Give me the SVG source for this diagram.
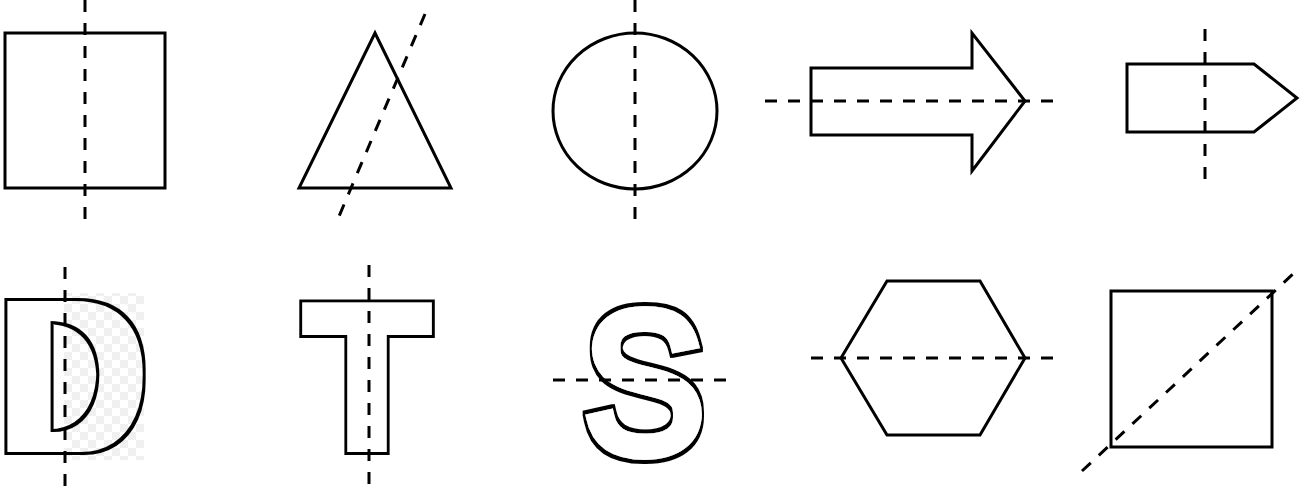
<svg xmlns="http://www.w3.org/2000/svg" width="1311" height="496" viewBox="0 0 1311 496">
  <style>
    .shape { fill: none; stroke: #000; stroke-width: 3; stroke-linejoin: miter; }
    .axis { fill: none; stroke: #000; stroke-width: 3; stroke-dasharray: 12 11; }
    .letter { font-family: "Liberation Sans", Arial, sans-serif; fill: #000; }
  </style>
  <defs>
    <pattern id="checker" x="0" y="0" width="16" height="16" patternUnits="userSpaceOnUse">
      <rect width="16" height="16" fill="#ffffff"/>
      <rect width="8" height="8" fill="#f0f0f0"/>
      <rect x="8" y="8" width="8" height="8" fill="#f0f0f0"/>
    </pattern>
    <filter id="fat6" x="-20%" y="-20%" width="140%" height="140%">
      <feMorphology in="SourceAlpha" operator="dilate" radius="7.5" result="outer"/>
      <feMorphology in="SourceAlpha" operator="dilate" radius="4.5" result="inner"/>
      <feComposite in="outer" in2="inner" operator="out" result="ring"/>
      <feFlood flood-color="#ffffff" result="white"/>
      <feComposite in="white" in2="inner" operator="in" result="fill"/>
      <feMerge>
        <feMergeNode in="fill"/>
        <feMergeNode in="ring"/>
      </feMerge>
    </filter>
    <filter id="ringD" x="-40%" y="-20%" width="180%" height="140%">
      <feMorphology in="SourceAlpha" operator="dilate" radius="18.45 4.5" result="outer"/>
      <feMorphology in="SourceAlpha" operator="dilate" radius="14.95 1.5" result="inner"/>
      <feComposite in="outer" in2="inner" operator="out"/>
    </filter>
    <filter id="edge" x="-20%" y="-20%" width="140%" height="140%">
      <feMorphology in="SourceAlpha" operator="dilate" radius="1.5" result="outer"/>
      <feMorphology in="SourceAlpha" operator="erode" radius="1.5" result="inner"/>
      <feComposite in="outer" in2="inner" operator="out" result="ring"/>
      <feFlood flood-color="#ffffff" result="white"/>
      <feComposite in="white" in2="inner" operator="in" result="fill"/>
      <feMerge>
        <feMergeNode in="fill"/>
        <feMergeNode in="ring"/>
      </feMerge>
    </filter>
  </defs>
  <rect width="1311" height="496" fill="#ffffff"/>

  <g id="square1">
    <rect class="shape" x="5" y="33" width="160" height="155"/>
  </g>
  <g id="triangle">
    <polygon class="shape" points="375,33 299,188 451,188"/>
  </g>
  <g id="circle">
    <ellipse class="shape" cx="635" cy="111" rx="82" ry="78"/>
  </g>
  <g id="arrow">
    <polygon class="shape" points="811,68 972,68 972,33 1025,101 972,171 972,135 811,135"/>
  </g>
  <g id="pentagon">
    <polygon class="shape" points="1127,64 1254,64 1297,98 1254,132 1127,132"/>
  </g>
  <g id="letterD">
    <rect x="64" y="293" width="80" height="167" fill="url(#checker)"/>
    <text class="letter" transform="translate(5.2,449.5) scale(0.862,1)" x="0" y="0" font-size="214" filter="url(#ringD)">D</text>
  </g>
  <g id="letterT">
    <text class="letter" x="367" y="447" font-size="203" font-weight="bold" text-anchor="middle" filter="url(#fat6)">T</text>
  </g>
  <g id="letterS">
    <text class="letter" transform="translate(644,451.6) scale(0.9,1)" x="0" y="0" font-size="200" text-anchor="middle" stroke="#000" stroke-width="16" stroke-linejoin="miter" stroke-miterlimit="4" filter="url(#edge)">S</text>
  </g>
  <g id="hexagon">
    <polygon class="shape" points="841,358 887,281 980,281 1025,358 980,435 887,435"/>
  </g>
  <g id="square2">
    <rect class="shape" x="1111" y="291" width="161" height="156"/>
  </g>

  <g id="axes">
    <line class="axis" x1="85" y1="0" x2="85" y2="221"/>
    <line class="axis" x1="425" y1="14" x2="337" y2="221"/>
    <line class="axis" x1="635" y1="0" x2="635" y2="221"/>
    <line class="axis" x1="765" y1="101" x2="1058" y2="101"/>
    <line class="axis" x1="1205" y1="29" x2="1205" y2="182"/>
    <line class="axis" x1="65" y1="267" x2="65" y2="490"/>
    <line class="axis" x1="369" y1="265" x2="369" y2="485"/>
    <line class="axis" x1="553" y1="380" x2="730" y2="380"/>
    <line class="axis" x1="811" y1="358" x2="1056" y2="358"/>
    <line class="axis" x1="1082" y1="471" x2="1293" y2="274"/>
  </g>
</svg>
